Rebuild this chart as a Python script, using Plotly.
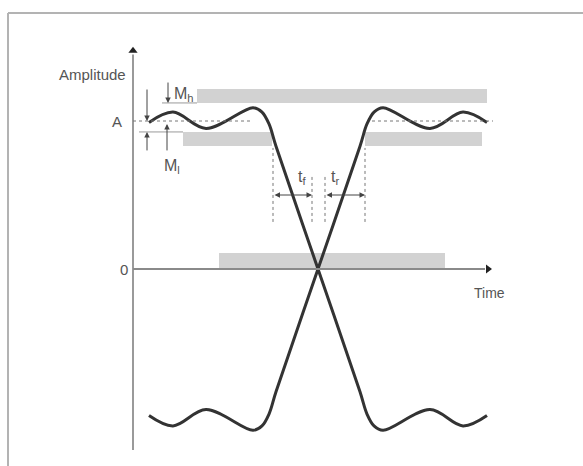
import plotly.graph_objects as go

# ---- data (time in arbitrary units, amplitude normalised so A = 1) ----
rise_t = [1.6, 4.0, 7.3, 12.0, 12.9, 13.6, 14.3, 18.5, 22.7, 23.4, 24.1, 25.0, 29.7, 33.0, 35.4]
rise_a = [-0.99, -1.06, -0.95, -1.09, -1.06, -0.98, -0.83, 0.0, 0.83, 0.98, 1.06, 1.09,
          0.95, 1.06, 0.99]
fall_t = [1.6, 4.0, 7.3, 12.0, 12.9, 13.6, 14.3, 18.5, 22.7, 23.4, 24.1, 25.0, 29.7, 33.0, 35.4]
fall_a = [0.99, 1.06, 0.95, 1.09, 1.06, 0.98, 0.83, 0.0, -0.83, -0.98, -1.06, -1.09,
          -0.95, -1.06, -0.99]

# tolerance bands: (t_start, t_end, a_low, a_high)
band_names = ["Mh", "Ml_left", "Ml_right", "zero"]
band_t0 = [6.4, 5.0, 23.2, 8.6]
band_t1 = [35.4, 13.9, 34.9, 31.2]
band_a0 = [1.122, 0.831, 0.831, 0.0]
band_a1 = [1.216, 0.926, 0.926, 0.108]

A_level = 1.0
Mh_level = 1.122
Ml_level = 0.926
tf_start, tf_end = 14.0, 17.9
tr_start, tr_end = 19.2, 23.2

tick_labels = ["A", "0"]
tick_values = [1.0, 0.0]

XR = [-13.3, 45.0]
YR = [-1.3311, 1.8176]

CURVE = "#333333"
GRAYBAND = "#d2d2d2"
TXT = "#555555"
FONT = "Liberation Sans, Arial, sans-serif"

fig = go.Figure()

fig.add_trace(go.Scatter(x=rise_t, y=rise_a, mode="lines",
                         line=dict(color=CURVE, width=3, shape="spline", smoothing=1.0),
                         hoverinfo="skip"))
fig.add_trace(go.Scatter(x=fall_t, y=fall_a, mode="lines",
                         line=dict(color=CURVE, width=3, shape="spline", smoothing=1.0),
                         hoverinfo="skip"))

shapes = []
# frame (top and left)
shapes.append(dict(type="line", xref="paper", yref="paper", x0=8/583, x1=1.0,
                   y0=1-13/466, y1=1-13/466, line=dict(color="#b3b3b3", width=2)))
shapes.append(dict(type="line", xref="paper", yref="paper", x0=8/583, x1=8/583,
                   y0=0, y1=1-13/466, line=dict(color="#b3b3b3", width=2)))
# bands
for t0, t1, a0, a1 in zip(band_t0, band_t1, band_a0, band_a1):
    shapes.append(dict(type="rect", x0=t0, x1=t1, y0=a0, y1=a1, layer="below",
                       line=dict(width=0), fillcolor=GRAYBAND))
# axes
shapes.append(dict(type="line", x0=0, x1=0, y0=-1.223, y1=1.45,
                   line=dict(color="#9a9a9a", width=2)))
shapes.append(dict(type="line", x0=0, x1=35.2, y0=0, y1=0,
                   line=dict(color="#8a8a8a", width=2)))
# thin reference lines for Mh / Ml
shapes.append(dict(type="line", x0=2.9, x1=6.4, y0=Mh_level, y1=Mh_level,
                   line=dict(color="#999999", width=1)))
shapes.append(dict(type="line", x0=0.6, x1=5.0, y0=Ml_level, y1=Ml_level,
                   line=dict(color="#999999", width=1)))
# dotted A level
shapes.append(dict(type="line", x0=0, x1=12.0, y0=A_level, y1=A_level,
                   line=dict(color="#777777", width=1, dash="dot")))
shapes.append(dict(type="line", x0=23.9, x1=36.0, y0=A_level, y1=A_level,
                   line=dict(color="#777777", width=1, dash="dot")))
# dotted vertical markers for tf / tr
for tx, top in [(tf_start, 0.818), (tf_end, 0.642), (tr_start, 0.622), (tr_end, 0.818)]:
    shapes.append(dict(type="line", x0=tx, x1=tx, y0=0.318, y1=top,
                       line=dict(color="#777777", width=1, dash="dot")))

annotations = []
def arrow(x, y, ax, ay, side="end", head=2):
    annotations.append(dict(x=x, y=y, ax=ax, ay=ay, xref="x", yref="y",
                            axref="x", ayref="y", text="", showarrow=True,
                            arrowhead=head, arrowside=side, arrowsize=1.1,
                            arrowwidth=1, arrowcolor="#444444",
                            startarrowhead=head, startarrowsize=1.1))
# Mh arrow (down onto Mh line)
arrow(3.5, Mh_level, 3.5, 1.27)
# tolerance arrows left of the curve
arrow(1.4, A_level, 1.4, 1.223)
arrow(1.4, Ml_level, 1.4, 0.791)
# Ml arrow (up to A level)
arrow(3.4, 0.98, 3.4, 0.791)
# tf / tr double arrows
arrow(tf_end, 0.5, tf_start, 0.5, side="end+start")
arrow(tr_end, 0.5, tr_start, 0.5, side="end+start")

def label(x, y, text, xanchor="center", size=15):
    annotations.append(dict(x=x, y=y, xref="x", yref="y", text=text, showarrow=False,
                            xanchor=xanchor, yanchor="middle",
                            font=dict(family=FONT, size=size, color=TXT)))

label(-0.5, 1.311, "Amplitude", xanchor="right")
for tv, tl in zip(tick_values, tick_labels):
    label(-0.9 if tl == "0" else -1.6, tv, tl, xanchor="center")
label(35.6, -0.162, "Time", size=14)
label(3.9, 1.18, "M<sub>h</sub>", xanchor="left", size=16)
label(2.9, 0.69, "M<sub>l</sub>", xanchor="left", size=16)
label(16.9, 0.62, "t<sub>f</sub>", size=16)
label(20.2, 0.62, "t<sub>r</sub>", size=16)

# axis arrowheads
fig.add_trace(go.Scatter(x=[0], y=[1.475], mode="markers",
                         marker=dict(symbol="triangle-up", size=8, color="#222222"),
                         hoverinfo="skip"))
fig.add_trace(go.Scatter(x=[35.5], y=[0], mode="markers",
                         marker=dict(symbol="triangle-right", size=8, color="#222222"),
                         hoverinfo="skip"))

fig.update_layout(
    width=583, height=466, margin=dict(l=0, r=0, t=0, b=0),
    paper_bgcolor="white", plot_bgcolor="white", showlegend=False,
    xaxis=dict(range=XR, visible=False, fixedrange=True),
    yaxis=dict(range=YR, visible=False, fixedrange=True),
    shapes=shapes, annotations=annotations,
)

fig.write_html("out.html", config={"displayModeBar": False},
               post_script="document.body.style.margin='0';")
